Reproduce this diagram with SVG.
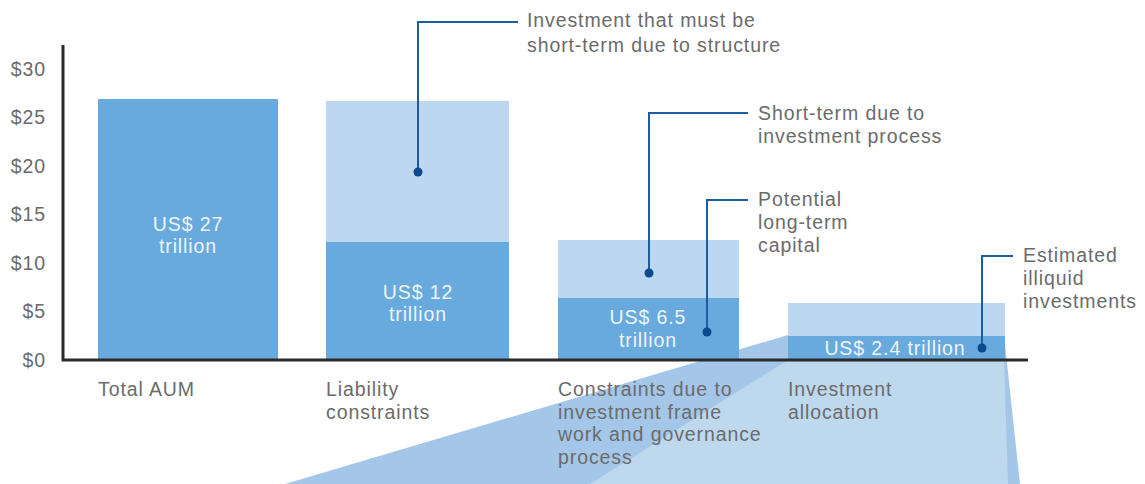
<svg xmlns="http://www.w3.org/2000/svg" width="1145" height="484" viewBox="0 0 1145 484">
<style>
text{font-family:"Liberation Sans",Arial,Helvetica,sans-serif;font-size:19.5px;letter-spacing:0.9px;fill:#6b6b6b}
.in{fill:#eef5fc;text-anchor:middle}
.ax{text-anchor:end}
.dark{fill:#68aadd}
.light{fill:#bcd7ef}
.lead{fill:none;stroke:#1c5ca4;stroke-width:2}
.dot{fill:#0b4a8f}
</style>
<rect width="1145" height="484" fill="#ffffff"/>
<g id="projection">
<polygon points="788,335 1004,335 1020,484 285,484" fill="#a4c6e8"/>
<polygon points="788,360 1004,360 1008,484 590,484" fill="#bed8ee"/>
</g>
<g id="bar-total-aum">
<rect class="dark" x="98" y="99" width="180" height="261"/>
<text class="in" x="188" y="231">US$ 27</text>
<text class="in" x="188" y="253">trillion</text>
</g>
<g id="bar-liability">
<rect class="light" x="326" y="101" width="183" height="141"/>
<rect class="dark" x="326" y="242" width="183" height="118"/>
<text class="in" x="418" y="299">US$ 12</text>
<text class="in" x="418" y="321">trillion</text>
</g>
<g id="bar-constraints">
<rect class="light" x="558" y="240" width="181" height="58"/>
<rect class="dark" x="558" y="298" width="181" height="62"/>
<text class="in" x="648" y="324">US$ 6.5</text>
<text class="in" x="648" y="347">trillion</text>
</g>
<g id="bar-allocation">
<rect class="light" x="788" y="303" width="217" height="33"/>
<rect class="dark" x="788" y="336" width="217" height="24"/>
<text class="in" x="895" y="355">US$ 2.4 trillion</text>
</g>
<g id="axes">
<polyline points="63,45 63,360 1028,360" fill="none" stroke="#2a2a2a" stroke-width="3"/>
<text class="ax" x="46" y="76">$30</text>
<text class="ax" x="46" y="124">$25</text>
<text class="ax" x="46" y="173">$20</text>
<text class="ax" x="46" y="221">$15</text>
<text class="ax" x="46" y="270">$10</text>
<text class="ax" x="46" y="318">$5</text>
<text class="ax" x="46" y="367">$0</text>
</g>
<g id="category-labels">
<text x="98" y="396">Total AUM</text>
<text x="326" y="396">Liability</text>
<text x="326" y="418.5">constraints</text>
<text x="558" y="396">Constraints due to</text>
<text x="558" y="418.5">investment frame</text>
<text x="558" y="441">work and governance</text>
<text x="558" y="463.5">process</text>
<text x="788" y="396">Investment</text>
<text x="788" y="418.5">allocation</text>
</g>
<g id="connectors">
<polyline class="lead" points="418,172 418,22 518,22"/>
<circle class="dot" cx="418" cy="172" r="4.5"/>
<polyline class="lead" points="649,273 649,113 748,113"/>
<circle class="dot" cx="649" cy="273" r="4.5"/>
<polyline class="lead" points="707,332 707,200 748,200"/>
<circle class="dot" cx="707" cy="332" r="4.5"/>
<polyline class="lead" points="982,348 982,256 1013,256"/>
<circle class="dot" cx="982" cy="348" r="4.5"/>
</g>
<g id="callouts">
<text x="527" y="27">Investment that must be</text>
<text x="527" y="52">short-term due to structure</text>
<text x="758" y="120">Short-term due to</text>
<text x="758" y="143">investment process</text>
<text x="758" y="206">Potential</text>
<text x="758" y="229">long-term</text>
<text x="758" y="252">capital</text>
<text x="1023" y="262">Estimated</text>
<text x="1023" y="285">illiquid</text>
<text x="1023" y="308">investments</text>
</g>
</svg>
